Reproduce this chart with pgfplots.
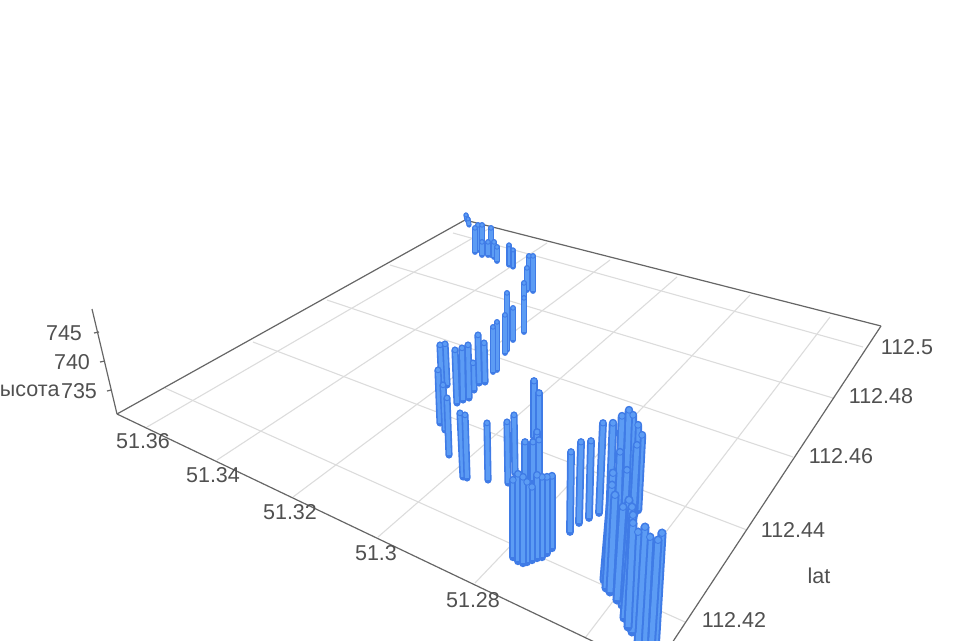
\documentclass[border=0pt]{standalone}
\usepackage{pgfplots}
\pgfplotsset{compat=1.18}
\usepackage{fontspec}
\setmainfont{Liberation Sans}
\definecolor{barout}{HTML}{3F7BE6}
\definecolor{barin}{HTML}{5C9CF4}
\definecolor{gridc}{HTML}{DCDCDC}
\definecolor{axc}{HTML}{666666}
\definecolor{txt}{HTML}{505050}
% one column: top x, top y, bottom x, bottom y, width (px)
\newcommand{\B}[5]{%
  \addplot[barout,line width=1.3*#5pt,line cap=round] coordinates {(#1,#2) (#3,#4)};
  \addplot[barin,line width=0.72*#5pt] coordinates {(#1,#2) (#3,#4)};
  \addplot[only marks,mark=*,mark size=0.5*#5pt,mark options={draw=barout,fill=barin,line width=0.9pt}] coordinates {(#1,#2)};
}
\newcommand{\G}[4]{\addplot[gridc,line width=1.1pt] coordinates {(#1,#2) (#3,#4)};}
\newcommand{\A}[4]{\addplot[axc,line width=1.2pt] coordinates {(#1,#2) (#3,#4)};}
\newcommand{\T}[3]{\node[txt,font=\fontsize{21.5}{24}\selectfont] at (axis cs:#1,#2) {#3};}
\begin{document}
\begin{tikzpicture}
\clip (0,0) rectangle (960pt,640pt);
\begin{axis}[scale only axis,width=960pt,height=640pt,xmin=0,xmax=960,ymin=0,ymax=640,y dir=reverse,axis lines=none,clip=true]
% floor grid
\G{147}{427}{490}{228}
\G{217}{460}{547}{243}
\G{293}{497}{610}{260}
\G{378}{537}{677}{277}
\G{475}{583}{750}{295}
\G{585}{638}{830}{317}
\G{453}{233}{863}{347}
\G{390}{265}{833}{398}
\G{327}{300}{793}{457}
\G{253}{342}{747}{530}
\G{165}{388}{685}{622}
% axes
\A{117}{414}{465}{220}
\A{465}{220}{881}{326}
\A{117}{414}{607}{648}
\A{881}{326}{670}{646}
\A{117}{414}{92}{309}
\A{107}{391}{111}{390}
\A{100}{362}{105}{361}
\A{94}{333}{99}{332}
% far cluster
\B{466}{215}{467}{220}{4}
\B{468}{219}{469}{225}{4}
\B{478}{225}{478}{250}{4.5}
\B{482}{225}{482}{253}{4.5}
\B{491}{228}{491}{255}{4.5}
\B{475}{228}{475}{252}{4.5}
\B{482}{242}{482}{255}{4.5}
\B{488}{242}{488}{255}{4.5}
\B{494}{242}{494}{257}{4.5}
\B{497}{247}{497}{261}{4.5}
\B{509}{245}{509}{265}{4}
\B{513}{250}{513}{267}{4}
% upper bend
\B{529}{256}{529}{285}{4.5}
\B{533}{256}{533}{291}{4.5}
\B{527}{268}{527}{290}{4.5}
\B{524}{283}{524}{307}{4.5}
\B{524}{298}{524}{332}{4.5}
\B{507}{293}{507}{350}{4.5}
\B{513}{308}{513}{340}{4.5}
\B{505}{315}{505}{353}{4.5}
\B{497}{322}{497}{370}{4.5}
\B{493}{327}{493}{372}{4.5}
% middle group
\B{478}{335}{479}{383}{5.5}
\B{484}{343}{485}{382}{5.5}
\B{473}{363}{474}{390}{5.5}
\B{468}{345}{469}{398}{5.5}
\B{462}{348}{463}{400}{5.5}
\B{455}{350}{457}{403}{5.5}
\B{445}{344}{447}{385}{5.5}
\B{440}{345}{442}{390}{5.5}
\B{438}{370}{440}{423}{5.5}
\B{443}{385}{445}{430}{5.5}
\B{447}{398}{449}{455}{5.5}
% isolated
\B{460}{413}{463}{477}{5.5}
\B{465}{415}{467}{478}{5.5}
\B{487}{423}{488}{480}{5.5}
\B{514}{415}{515}{473}{5.5}
\B{507}{422}{508}{483}{5.5}
\B{534}{381}{534}{437}{6}
\B{539}{393}{539}{443}{6}
\B{537}{432}{537}{445}{6}
\B{525}{442}{525}{480}{6}
\B{533}{442}{533}{480}{6}
\B{539}{440}{539}{480}{6}
% front cluster, centre
\B{552}{476}{552}{548}{6.5}
\B{547}{477}{547}{553}{6.5}
\B{542}{477}{542}{557}{6.5}
\B{537}{475}{537}{558}{6.5}
\B{513}{480}{513}{557}{6.5}
\B{518}{474}{518}{561}{6.5}
\B{532}{487}{532}{560}{6.5}
\B{527}{482}{527}{562}{6.5}
\B{523}{477}{523}{563}{6.5}
% row
\B{571}{452}{570}{532}{6}
\B{581}{442}{579}{523}{6}
\B{591}{441}{589}{518}{6}
\B{603}{423}{599}{513}{6}
% right group, back
\B{642}{435}{638}{510}{6.5}
\B{638}{425}{634}{515}{6.5}
\B{633}{415}{629}{520}{6.5}
\B{629}{410}{625}{520}{6.5}
\B{622}{416}{618}{520}{6.5}
\B{613}{423}{609}{530}{6.5}
\B{637}{445}{632}{535}{6.5}
\B{627}{470}{622}{560}{6.5}
\B{620}{452}{617}{540}{6.5}
% right group, middle
\B{613}{473}{604}{580}{7}
\B{612}{485}{606}{588}{7}
\B{615}{495}{610}{592}{7}
\B{629}{500}{620}{600}{7}
\B{632}{507}{622}{605}{7}
\B{623}{507}{617}{600}{7}
\B{633}{515}{624}{618}{7}
% right group, front
\B{662}{533}{655}{650}{7}
\B{658}{540}{651}{650}{7}
\B{650}{537}{644}{650}{7}
\B{645}{527}{638}{645}{7}
\B{638}{532}{632}{632}{7}
\B{633}{523}{628}{627}{7}
% labels
\T{143}{441}{51.36}
\T{213}{475}{51.34}
\T{290}{512}{51.32}
\T{376}{553}{51.3}
\T{473}{600}{51.28}
\T{907}{347}{112.5}
\T{881}{396}{112.48}
\T{841}{456}{112.46}
\T{793}{530}{112.44}
\T{734}{620}{112.42}
\T{819}{576}{lat}
\T{64}{333}{745}
\T{72}{362}{740}
\T{79}{391}{735}
\node[txt,font=\fontsize{21.5}{24}\selectfont,anchor=east] at (axis cs:63,391) {высота};
\end{axis}
\end{tikzpicture}
\end{document}
